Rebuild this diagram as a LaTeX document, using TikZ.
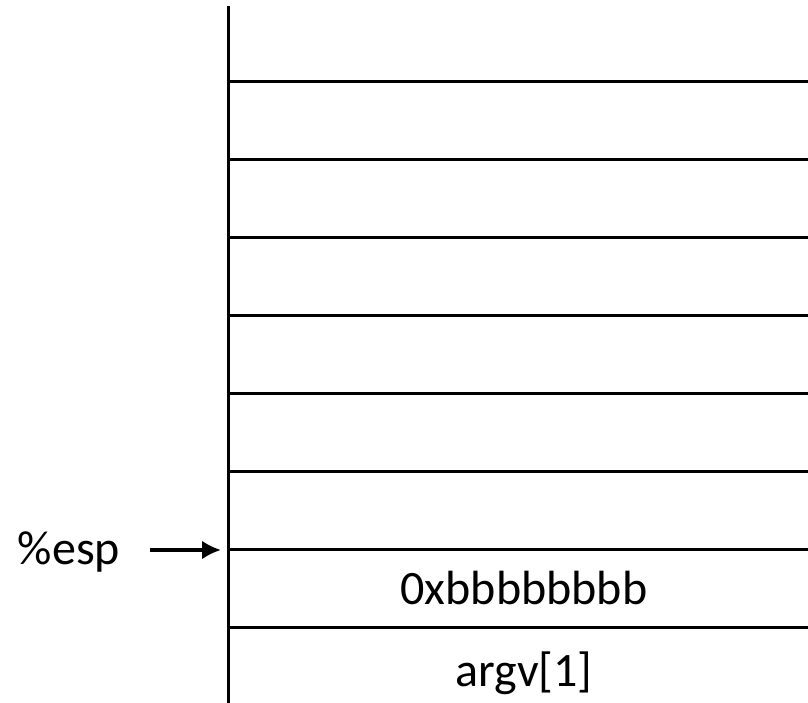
\documentclass[tikz,border=0pt]{standalone}
\usepackage{fontspec}
\setmainfont{Carlito}
\usetikzlibrary{arrows.meta}

\begin{document}
\begin{tikzpicture}[x=1pt,y=1pt,line width=3pt,>={Latex[length=19pt,width=19pt]},
    every node/.style={font=\fontsize{48}{58}\selectfont,anchor=base}]
  \useasboundingbox (0,0) rectangle (808,703);
  % stack wall and slots
  \draw (228,0) -- (228,697);
  \foreach \y in {75,153,...,621}
    \draw (228,\y) -- (808,\y);
  \coordinate (sp) at (228,153);
  \node (ret) at (524,98) {0xbbbbbbbb};
  \node (arg) at (524,16) {argv[1]};
  \node (esp) at (69,138) {\%esp};
  \draw[->,line width=4.5pt] (esp.east |- sp) ++(25,0) -- ([xshift=-7pt]sp);
\end{tikzpicture}
\end{document}
